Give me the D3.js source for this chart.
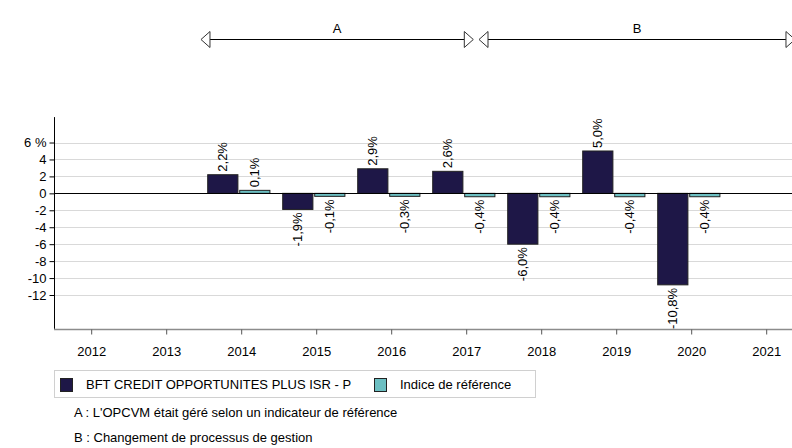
<!DOCTYPE html>
<html><head><meta charset="utf-8">
<script src="https://cdn.jsdelivr.net/npm/d3@7"></script>
<style>
html,body{margin:0;padding:0;background:#fff;}
text{font-family:"Liberation Sans",Arial,sans-serif;font-size:13px;fill:#000;}
</style></head>
<body><svg id="c" width="792" height="448"></svg>
<script>
const years = [2012,2013,2014,2015,2016,2017,2018,2019,2020,2021];
const seriesNames = ["BFT CREDIT OPPORTUNITES PLUS ISR - P","Indice de référence"];
const fundValues  = [null,null,2.2,-1.9,2.9,2.6,-6.0,5.0,-10.8,null];
const indexValues = [null,null,0.1,-0.1,-0.3,-0.4,-0.4,-0.4,-0.4,null];
const yTicks = [-12,-10,-8,-6,-4,-2,0,2,4,6];
const periodLabels = ["A","B"];
const periodStart = [2013.457,2017.164];
const periodEnd   = [2017.088,2021.377];
const notes = ["A : L'OPCVM était géré selon un indicateur de référence","B : Changement de processus de gestion"];
const colors = ["#1e1747","#6cbfc2"];

const svg = d3.select("#c");
const x = d3.scaleBand().domain(years).range([54.2,804.2]).padding(0);
const inner = d3.scaleBand().domain([0,1]).range([3.5,65.7]).paddingInner(0.056);
const y = d3.scaleLinear().domain([-16,9]).range([328.9,117.1]);
const yearLin = d3.scaleLinear().domain([2012,2013]).range([x(2012)+x.bandwidth()/2, x(2013)+x.bandwidth()/2]);

// gridlines
svg.append("g").selectAll("line").data(yTicks.filter(d=>d!==0)).join("line")
  .attr("x1",54.5).attr("x2",792).attr("y1",d=>Math.round(y(d))+0.5).attr("y2",d=>Math.round(y(d))+0.5)
  .attr("stroke","#d9d9d9").attr("stroke-width",1);

// y axis
const yAxis = svg.append("g").attr("transform","translate(54.5,0)")
  .call(d3.axisLeft(y).tickValues(yTicks).tickSize(5).tickPadding(3).tickFormat(d=>d===6?"6 %":d));
yAxis.select(".domain").attr("d",`M0,${y(9)}V${y(-16)}`).attr("stroke","#000");
yAxis.selectAll(".tick line").attr("stroke","#000");
yAxis.selectAll("text").attr("font-size",13).attr("fill","#000").style("font-family","Liberation Sans, Arial, sans-serif");

// x axis
const xAxis = svg.append("g").attr("transform",`translate(0,${Math.round(y(-16))+0.5})`)
  .call(d3.axisBottom(x).tickSize(5).tickPadding(12));
xAxis.select(".domain").attr("d","M54,0H792").attr("stroke","#8c8c8c").attr("stroke-width",1.5);
xAxis.selectAll(".tick line").attr("stroke","#555");
xAxis.selectAll("text").attr("font-size",13).attr("fill","#000").style("font-family","Liberation Sans, Arial, sans-serif");

// bars
const allSeries = [fundValues,indexValues];
const minH = 3;
const fmt = v => (v.toFixed(1).replace(".",",")) + "%";
allSeries.forEach((vals,si)=>{
  const data = years.map((yr,i)=>({yr,v:vals[i]})).filter(d=>d.v!==null);
  const g = svg.append("g");
  g.selectAll("rect").data(data).join("rect")
    .attr("x",d=>x(d.yr)+inner(si))
    .attr("width",inner.bandwidth())
    .attr("y",d=>{const h=Math.max(Math.abs(y(d.v)-y(0)),minH); return d.v>=0? y(0)-h : y(0);})
    .attr("height",d=>Math.max(Math.abs(y(d.v)-y(0)),minH))
    .attr("fill",colors[si]).attr("stroke","#222").attr("stroke-width",1);
  g.selectAll("text").data(data).join("text")
    .attr("transform",d=>{
      const h=Math.max(Math.abs(y(d.v)-y(0)),minH);
      const cx=x(d.yr)+inner(si)+inner.bandwidth()/2;
      const ty = d.v>=0 ? y(0)-h-3 : y(0)+h+3;
      return `translate(${cx},${ty}) rotate(-90)`;})
    .attr("dy","0.35em")
    .attr("text-anchor",d=>d.v>=0?"start":"end")
    .text(d=>fmt(d.v));
});

// zero line
svg.append("line").attr("x1",54.5).attr("x2",792).attr("y1",Math.round(y(0))+0.5).attr("y2",Math.round(y(0))+0.5)
  .attr("stroke","#000").attr("stroke-width",1);

// period arrows
const ay = 39.5;
periodLabels.forEach((lab,i)=>{
  const x1 = yearLin(periodStart[i]), x2 = yearLin(periodEnd[i]);
  const g = svg.append("g");
  g.append("line").attr("x1",x1+9).attr("x2",x2-9).attr("y1",ay).attr("y2",ay).attr("stroke","#000").attr("stroke-width",1.2);
  g.append("path").attr("d",`M${x1},${ay}L${x1+9},${ay-8}L${x1+9},${ay+8}Z`).attr("fill","#fff").attr("stroke","#333");
  g.append("path").attr("d",`M${x2},${ay}L${x2-9},${ay-8}L${x2-9},${ay+8}Z`).attr("fill","#fff").attr("stroke","#333");
  g.append("text").attr("x",(x1+x2)/2).attr("y",33).attr("text-anchor","middle").text(lab);
});

// legend
const lg = svg.append("g");
lg.append("rect").attr("x",54.5).attr("y",370.5).attr("width",481).attr("height",27).attr("fill","#fff").attr("stroke","#d0d0d0");
const legX = [60,374];
seriesNames.forEach((n,i)=>{
  lg.append("rect").attr("x",legX[i]+0.5).attr("y",378.5).attr("width",12).attr("height",13).attr("fill",colors[i]).attr("stroke","#222");
  lg.append("text").attr("x",legX[i]+26).attr("y",389).text(n);
});

// notes
notes.forEach((t,i)=>{
  svg.append("text").attr("x",74).attr("y",417+i*25).text(t);
});
</script></body></html>
